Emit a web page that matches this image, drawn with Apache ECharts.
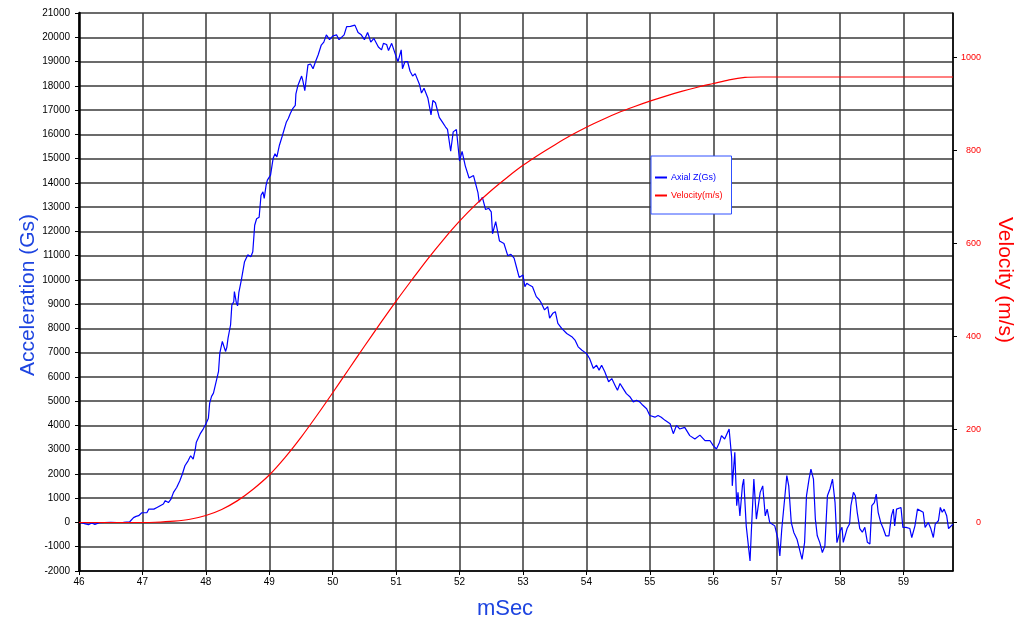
<!DOCTYPE html>
<html>
<head>
<meta charset="utf-8">
<script src="https://cdn.jsdelivr.net/npm/echarts@6/dist/echarts.min.js"></script>
<style>
  html, body { margin: 0; padding: 0; background: #fff; }
  #chart { width: 1017px; height: 625px; }
</style>
</head>
<body>
<div id="chart"></div>
<script>
// acceleration trace (mSec, Gs)
const accTime = [
  46.00, 46.05, 46.10, 46.15, 46.20, 46.25, 46.28, 46.32, 46.40, 46.50, 46.60, 46.70, 46.80, 46.86, 46.90, 46.94, 46.99,
  47.07, 47.10, 47.18, 47.23, 47.28, 47.33, 47.36, 47.41, 47.45, 47.49, 47.54, 47.59, 47.63, 47.67, 47.72, 47.76, 47.80,
  47.83, 47.85, 47.91, 47.96, 48.00, 48.04, 48.06, 48.09, 48.12, 48.15, 48.20, 48.22, 48.26, 48.29, 48.31, 48.33, 48.35,
  48.39, 48.41, 48.44, 48.45, 48.48, 48.50, 48.52, 48.56, 48.61, 48.66, 48.71, 48.74, 48.77, 48.80, 48.84, 48.87, 48.90,
  48.92, 48.95, 48.97, 49.00, 49.02, 49.06, 49.09, 49.12, 49.16, 49.20, 49.23, 49.27, 49.30, 49.33, 49.37, 49.41, 49.42,
  49.45, 49.51, 49.53, 49.56, 49.61, 49.65, 49.69, 49.73, 49.77, 49.82, 49.86, 49.90, 49.95, 50.00, 50.06, 50.10, 50.13,
  50.18, 50.22, 50.28, 50.35, 50.40, 50.45, 50.50, 50.55, 50.57, 50.60, 50.65, 50.68, 50.72, 50.77, 50.80, 50.85, 50.88,
  50.93, 51.00, 51.03, 51.08, 51.10, 51.14, 51.18, 51.22, 51.26, 51.30, 51.37, 51.40, 51.44, 51.47, 51.50, 51.55, 51.58,
  51.62, 51.68, 51.73, 51.78, 51.81, 51.86, 51.90, 51.95, 52.00, 52.04, 52.09, 52.15, 52.22, 52.29, 52.31, 52.36, 52.41,
  52.46, 52.50, 52.52, 52.57, 52.63, 52.70, 52.76, 52.81, 52.86, 52.90, 52.94, 53.00, 53.03, 53.06, 53.10, 53.15, 53.21,
  53.26, 53.29, 53.34, 53.39, 53.42, 53.47, 53.51, 53.55, 53.61, 53.69, 53.77, 53.82, 53.87, 53.93, 54.00, 54.05, 54.11,
  54.16, 54.20, 54.24, 54.29, 54.35, 54.40, 54.45, 54.49, 54.53, 54.58, 54.63, 54.69, 54.74, 54.79, 54.84, 54.89, 54.95,
  55.00, 55.08, 55.13, 55.18, 55.24, 55.32, 55.37, 55.42, 55.47, 55.55, 55.63, 55.71, 55.79, 55.87, 55.95, 56.00, 56.05,
  56.10, 56.13, 56.18, 56.25, 56.29, 56.30, 56.34, 56.37, 56.39, 56.42, 56.46, 56.48, 56.52, 56.58, 56.60, 56.64, 56.68,
  56.74, 56.78, 56.82, 56.85, 56.89, 56.97, 57.02, 57.05, 57.08, 57.13, 57.16, 57.19, 57.23, 57.27, 57.32, 57.40, 57.44,
  57.47, 57.51, 57.54, 57.58, 57.61, 57.64, 57.68, 57.72, 57.76, 57.80, 57.84, 57.88, 57.92, 57.95, 57.98, 58.00, 58.03,
  58.05, 58.11, 58.15, 58.17, 58.21, 58.24, 58.27, 58.31, 58.35, 58.39, 58.43, 58.47, 58.50, 58.54, 58.57, 58.60, 58.64,
  58.68, 58.72, 58.77, 58.81, 58.84, 58.86, 58.89, 58.92, 58.96, 58.99, 59.04, 59.10, 59.13, 59.18, 59.22, 59.25, 59.31,
  59.34, 59.39, 59.43, 59.47, 59.50, 59.55, 59.58, 59.61, 59.64, 59.68, 59.71, 59.74, 59.78
];
const accValue = [
  0, -20, -60, -90, -20, -80, -90, -10, 0, 10, 0, 10, 30, 200, 250, 280, 400,
  400, 550, 550, 620, 690, 760, 900, 820, 960, 1240, 1440, 1720, 2000, 2340, 2540, 2750, 2610,
  2960, 3310, 3650, 3860, 4060, 4300, 4920, 5200, 5330, 5400, 6230, 6980, 7460, 7520, 7050, 7210, 7600,
  8150, 8970, 9100, 9520, 9070, 8930, 9470, 10000, 10750, 11030, 10950, 11160, 12250, 12520, 12580, 13490, 13630,
  13360, 13900, 14110, 14100, 14320, 15000, 15200, 15070, 15550, 15890, 15960, 16510, 16650, 16850, 17060, 17190, 17670,
  18000, 18400, 18200, 17800, 18860, 18900, 18700, 19000, 19270, 19680, 19800, 20100, 19900, 20050, 20100, 19900, 19950,
  20100, 20440, 20450, 20500, 20200, 20100, 19900, 20200, 20050, 19800, 19950, 19900, 19600, 19480, 19750, 19700, 19450,
  19750, 19200, 19000, 19480, 18700, 19000, 19000, 18600, 18400, 18500, 18040, 17700, 17900, 17900, 17500, 16800, 17400,
  17300, 16700, 16500, 16300, 16200, 15300, 16100, 16200, 14900, 15300, 14700, 14200, 14300, 13600, 13200, 13400, 12900,
  12950, 12800, 11900, 12400, 11600, 11500, 11000, 11050, 10900, 10500, 10100, 10200, 9720, 9860, 9790, 9720, 9310,
  9170, 9040, 8760, 8900, 8420, 8620, 8690, 8210, 8000, 7790, 7660, 7520, 7240, 7100, 6970, 6760, 6350,
  6480, 6280, 6480, 6210, 5800, 5930, 5660, 5450, 5730, 5520, 5310, 5170, 4970, 5040, 4970, 4830, 4690,
  4410, 4340, 4410, 4340, 4210, 4070, 3660, 4000, 3855, 3920, 3580, 3440, 3600, 3370, 3370, 3170, 3030,
  3310, 3580, 3440, 3855, 2690, 1510, 2890, 690, 1240, 270, 1520, 1790, -140, -1590, -410, 1790, 140,
  1240, 1510, 270, 550, 0, -140, -690, -1380, -280, 1100, 1930, 1510, 0, -410, -690, -1520, -830,
  1100, 1790, 2200, 1790, 140, -550, -830, -1240, -970, 1100, 1380, 1790, 830, -830, -900, -345, -200,
  -820, -250, -50, 690, 1240, 1100, 420, -250, -400, -200, -820, -890, 690, 820, 1170, 420, 0,
  -250, -550, -550, 280, 550, -140, 550, 620, 620, -200, -200, -250, -620, -140, 550, 620, 420,
  -200, 0, -250, -620, -70, 70, 620, 420, 550, 280, -250, -200, -70
];

// velocity trace (mSec, m/s)
const velTime = [46.0, 46.5, 47.0, 47.2, 47.5, 47.75, 48.0, 48.25, 48.5, 48.75, 49.0, 49.25, 49.5, 49.75, 50.0,
  50.25, 50.5, 50.75, 51.0, 51.25, 51.5, 51.75, 52.0, 52.25, 52.5, 52.75, 53.0, 53.25, 53.5, 53.75, 54.0,
  54.25, 54.5, 54.75, 55.0, 55.25, 55.5, 55.75, 56.0, 56.25, 56.5, 56.75, 57.0, 58.0, 59.0, 59.78];
const velValue = [0, 0, 0, 0.5, 3, 7, 15, 28, 47, 72, 102, 140, 183, 230, 279,
  329, 379, 428, 476, 522, 567, 609, 648, 683, 714, 742, 768, 791, 812, 832, 850,
  866, 881, 894, 906, 917, 927, 936, 944, 952, 957, 958, 958, 958, 958, 958];

const velTicks = [0, 200, 400, 600, 800, 1000];

const accData = accTime.map((t, i) => [t, accValue[i]]);
const velData = velTime.map((t, i) => [t, velValue[i]]);

const font = "Liberation Sans";
const blue = "#0000ff";
const red = "#ff0000";
const plain = (v) => String(v);

let chart = echarts.init(document.getElementById("chart"), null, { renderer: "canvas" });

chart.setOption({
  animation: false,
  backgroundColor: "#fff",
  grid: { left: 79, right: 64, top: 13, bottom: 54, containLabel: false, outerBoundsMode: "none" },
  xAxis: {
    type: "value",
    min: 46,
    max: 59.78,
    interval: 1,
    axisLine: { onZero: false, lineStyle: { color: "#000", width: 1.5 } },
    axisTick: { show: true, length: 4, lineStyle: { color: "#000" } },
    axisLabel: { color: "#000", fontSize: 10, fontFamily: font, margin: 6, showMaxLabel: false, formatter: plain },
    splitLine: { show: true, lineStyle: { color: "#3a3a3a", width: 1.5 } },
  },
  yAxis: [
    {
      type: "value",
      min: -2000,
      max: 21000,
      interval: 1000,
      axisLine: { show: true, lineStyle: { color: "#000", width: 2.5 } },
      axisTick: { show: true, length: 4, lineStyle: { color: "#000" } },
      axisLabel: { color: "#000", fontSize: 10, fontFamily: font, margin: 9, formatter: plain },
      splitLine: { show: true, lineStyle: { color: "#3a3a3a", width: 1.5 } },
    },
    {
      type: "value",
      position: "right",
      min: -104.35,
      max: 1095.65,
      axisLine: { show: true, lineStyle: { color: "#000", width: 1.5 } },
      axisTick: { show: true, length: 4, customValues: velTicks, lineStyle: { color: "#000" } },
      axisLabel: {
        color: red,
        fontSize: 9,
        fontFamily: font,
        customValues: velTicks,
        formatter: plain,
        align: "right",
        margin: 28,
      },
      splitLine: { show: false },
    },
  ],
  legend: {
    orient: "vertical",
    left: 651,
    top: 156,
    padding: [17, 9, 14, 4],
    itemGap: 9,
    itemWidth: 12,
    itemHeight: 2,
    icon: "rect",
    backgroundColor: "#fff",
    borderColor: "#3050ff",
    borderWidth: 1,
    borderRadius: 0,
    textStyle: { fontSize: 9, fontFamily: font, padding: [0, 0, 0, -1] },
    data: [
      { name: "Axial Z(Gs)", textStyle: { color: blue } },
      { name: "Velocity(m/s)", textStyle: { color: red } },
    ],
  },
  graphic: [
    {
      type: "text",
      x: 28,
      y: 295,
      rotation: Math.PI / 2,
      style: { text: "Acceleration (Gs)", fill: "#1d44e0", font: "21px " + font, align: "center", verticalAlign: "middle" },
    },
    {
      type: "text",
      x: 1005,
      y: 280,
      rotation: -Math.PI / 2,
      style: { text: "Velocity (m/s)", fill: red, font: "21px " + font, align: "center", verticalAlign: "middle" },
    },
    {
      type: "text",
      x: 505,
      y: 609,
      style: { text: "mSec", fill: "#1d44e0", font: "22px " + font, align: "center", verticalAlign: "middle" },
    },
  ],
  series: [
    {
      name: "Axial Z(Gs)",
      type: "line",
      yAxisIndex: 0,
      data: accData,
      showSymbol: false,
      color: blue,
      lineStyle: { color: blue, width: 1.2 },
      z: 3,
    },
    {
      name: "Velocity(m/s)",
      type: "line",
      yAxisIndex: 1,
      data: velData,
      smooth: 0.3,
      showSymbol: false,
      color: red,
      lineStyle: { color: red, width: 1.2 },
      z: 4,
    },
  ],
});
</script>
</body>
</html>
